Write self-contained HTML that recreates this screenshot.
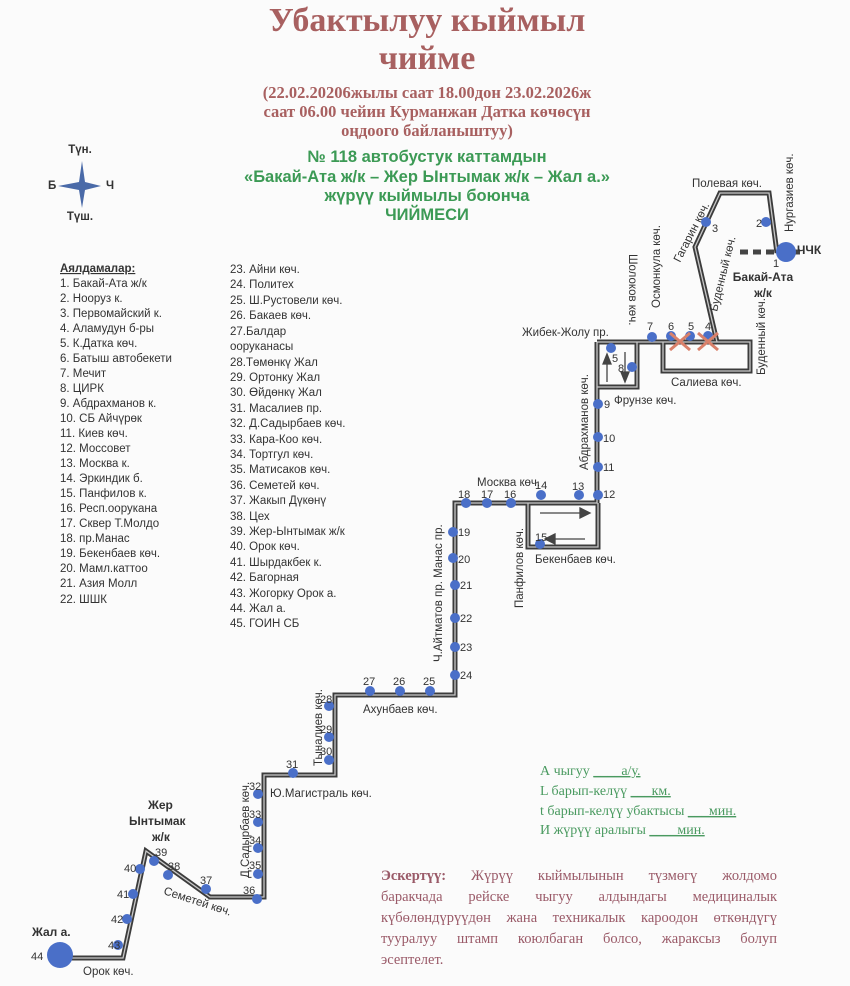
<!DOCTYPE html>
<html><head><meta charset="utf-8"><style>
html,body{margin:0;padding:0;background:#fbfbfb;}
svg{display:block}
.t{font-family:"Liberation Serif",serif;font-weight:bold;fill:#a86060;text-anchor:middle}
.g{font-family:"Liberation Sans",sans-serif;font-weight:bold;fill:#3c9a55;text-anchor:middle;font-size:16.5px}
.l{font-family:"Liberation Sans",sans-serif;fill:#333;font-size:11.5px}
.s{font-family:"Liberation Sans",sans-serif;fill:#333;font-size:11.5px}
.n{font-family:"Liberation Sans",sans-serif;fill:#333;font-size:11px}
.gs{font-family:"Liberation Serif",serif;fill:#4a9a60;font-size:14px}
#note{position:absolute;left:381px;top:866px;width:396px;font-family:"Liberation Serif",serif;color:#9a5a68;font-size:14.5px;line-height:21px;text-align:justify;text-align-last:justify}
#note .last{text-align-last:left}
</style></head><body>
<div style="position:relative;width:850px;height:986px">
<svg width="850" height="986" viewBox="0 0 850 986" xmlns="http://www.w3.org/2000/svg">
<text class="t" x="427" y="31" font-size="34">Убактылуу кыймыл</text>
<text class="t" x="427" y="69" font-size="34">чийме</text>
<text class="t" x="427" y="98" font-size="16.5">(22.02.20206жылы саат 18.00дон 23.02.2026ж</text>
<text class="t" x="427" y="117" font-size="16.5">саат 06.00 чейин Курманжан Датка көчөсүн</text>
<text class="t" x="427" y="136" font-size="16.5">оңдоого байланыштуу)</text>
<text class="g" x="427" y="162">№ 118  автобустук каттамдын</text>
<text class="g" x="427" y="182">«Бакай-Ата ж/к – Жер Ынтымак ж/к – Жал а.»</text>
<text class="g" x="427" y="201">жүрүү кыймылы боюнча</text>
<text class="g" x="427" y="220">ЧИЙМЕСИ</text>

<text class="s" x="80" y="153" font-weight="bold" font-size="10" text-anchor="middle">Түн.</text>
<text class="s" x="80" y="220" font-weight="bold" font-size="10" text-anchor="middle">Түш.</text>
<text class="s" x="48" y="189" font-weight="bold" font-size="10">Б</text>
<text class="s" x="106" y="189" font-weight="bold" font-size="10">Ч</text>
<path d="M82,161 L85,182 L101,186 L85,190 L82,208 L79,190 L58,186 L79,182 Z" fill="#4a6aa8"/>

<g class="l">
<text x="60" y="272" font-weight="bold" text-decoration="underline">Аялдамалар:</text>
<text x="60" y="287">1. Бакай-Ата ж/к</text>
<text x="60" y="302">2.  Нооруз к.</text>
<text x="60" y="317">3. Первомайский к.</text>
<text x="60" y="332">4. Аламудун б-ры</text>
<text x="60" y="347">5. К.Датка көч.</text>
<text x="60" y="362">6. Батыш автобекети</text>
<text x="60" y="377">7. Мечит</text>
<text x="60" y="392">8. ЦИРК</text>
<text x="60" y="407">9. Абдрахманов к.</text>
<text x="60" y="422">10. СБ Айчүрөк</text>
<text x="60" y="437">11. Киев көч.</text>
<text x="60" y="452">12. Моссовет</text>
<text x="60" y="467">13. Москва к.</text>
<text x="60" y="482">14. Эркиндик б.</text>
<text x="60" y="497">15. Панфилов к.</text>
<text x="60" y="512">16. Респ.оорукана</text>
<text x="60" y="527">17. Сквер Т.Молдо</text>
<text x="60" y="542">18. пр.Манас</text>
<text x="60" y="557">19. Бекенбаев көч.</text>
<text x="60" y="572">20. Мамл.каттоо</text>
<text x="60" y="587">21. Азия Молл</text>
<text x="60" y="603">22. ШШК</text>
<text x="230" y="273">23. Айни көч.</text>
<text x="230" y="288">24. Политех</text>
<text x="230" y="304">25. Ш.Рустовели көч.</text>
<text x="230" y="319">26. Бакаев көч.</text>
<text x="230" y="335">27.Балдар</text>
<text x="230" y="350">ооруканасы</text>
<text x="230" y="366">28.Төмөнкү Жал</text>
<text x="230" y="381">29. Ортонку Жал</text>
<text x="230" y="396">30. Өйдөнкү Жал</text>
<text x="230" y="412">31. Масалиев пр.</text>
<text x="230" y="427">32. Д.Садырбаев көч.</text>
<text x="230" y="443">33. Кара-Коо көч.</text>
<text x="230" y="458">34. Тортгул көч.</text>
<text x="230" y="473">35. Матисаков көч.</text>
<text x="230" y="489">36. Семетей көч.</text>
<text x="230" y="504">37. Жакып Дүкөнү</text>
<text x="230" y="520">38. Цех</text>
<text x="230" y="535">39. Жер-Ынтымак ж/к</text>
<text x="230" y="550">40. Орок көч.</text>
<text x="230" y="566">41. Шырдакбек к.</text>
<text x="230" y="581">42. Багорная</text>
<text x="230" y="597">43. Жогорку Орок а.</text>
<text x="230" y="612">44. Жал а.</text>
<text x="230" y="627">45. ГОИН СБ</text>
</g>

<g fill="none" stroke-linejoin="miter">
<g stroke="#3c3c3c" stroke-width="5">
<polyline points="777,253 769,193 720,193 695,247 717,342"/>
<polyline points="597,342 750,342 750,371 663,371 663,342"/>
<polyline points="637,342 637,387 597,387"/>
<polyline points="597,342 597,503 455,503 455,695 335,695 335,775 264,775 264,897 210,897 146,851 123,958 60,958"/>
<polyline points="528,503 528,547 598,547 598,503"/>
</g>
<g stroke="#c8c8c8" stroke-width="1.3">
<polyline points="777,253 769,193 720,193 695,247 717,342"/>
<polyline points="597,342 750,342 750,371 663,371 663,342"/>
<polyline points="637,342 637,387 597,387"/>
<polyline points="597,342 597,503 455,503 455,695 335,695 335,775 264,775 264,897 210,897 146,851 123,958 60,958"/>
<polyline points="528,503 528,547 598,547 598,503"/>
</g>
</g>
<line x1="740" y1="252" x2="800" y2="252" stroke="#444" stroke-width="5" stroke-dasharray="8,5"/>
<g stroke="#444" stroke-width="1.3" fill="#444">
<line x1="607" y1="382" x2="607" y2="362"/><path d="M603,364 L607,354 L611,364Z"/>
<line x1="625" y1="352" x2="625" y2="374"/><path d="M621,372 L625,382 L629,372Z"/>
<line x1="540" y1="513" x2="582" y2="513"/><path d="M580,508 L590,513 L580,518Z"/>
<line x1="585" y1="539" x2="553" y2="539"/><path d="M555,534 L545,539 L555,544Z"/>
</g>
<g fill="#4a6fc8">
<circle cx="786" cy="252" r="10"/>
<circle cx="766" cy="222" r="5"/>
<circle cx="706" cy="222" r="5"/>
<circle cx="708" cy="336" r="5"/><circle cx="690" cy="336" r="5"/><circle cx="671" cy="336" r="5"/><circle cx="652" cy="337" r="5"/>
<circle cx="611" cy="348" r="5"/><circle cx="632" cy="367" r="5"/>
<circle cx="598" cy="404" r="5"/><circle cx="598" cy="437" r="5"/><circle cx="598" cy="467" r="5"/><circle cx="598" cy="495" r="5"/>
<circle cx="579" cy="495" r="5"/><circle cx="541" cy="495" r="5"/><circle cx="511" cy="503" r="5"/><circle cx="487" cy="503" r="5"/><circle cx="466" cy="503" r="5"/>
<circle cx="540" cy="544" r="5"/>
<circle cx="453" cy="532" r="5"/><circle cx="453" cy="558" r="5"/><circle cx="455" cy="585" r="5"/><circle cx="455" cy="618" r="5"/><circle cx="455" cy="647" r="5"/><circle cx="455" cy="675" r="5"/>
<circle cx="430" cy="691" r="5"/><circle cx="400" cy="691" r="5"/><circle cx="370" cy="691" r="5"/>
<circle cx="329" cy="706" r="5"/><circle cx="329" cy="737" r="5"/><circle cx="329" cy="760" r="5"/>
<circle cx="293" cy="773" r="5"/>
<circle cx="258" cy="794" r="5"/><circle cx="258" cy="822" r="5"/><circle cx="258" cy="848" r="5"/><circle cx="258" cy="874" r="5"/><circle cx="257" cy="899" r="5"/>
<circle cx="206" cy="889" r="5"/><circle cx="168" cy="875" r="5"/><circle cx="154" cy="861" r="5"/>
<circle cx="140" cy="869" r="5"/><circle cx="133" cy="894" r="5"/><circle cx="127" cy="919" r="5"/><circle cx="118" cy="945" r="5"/>
<circle cx="60" cy="955" r="13"/>
</g>
<g stroke="#d9806a" stroke-width="3">
<line x1="670" y1="333" x2="690" y2="350"/><line x1="690" y1="333" x2="670" y2="350"/>
<line x1="698" y1="333" x2="718" y2="350"/><line x1="718" y1="333" x2="698" y2="350"/>
</g>
<g class="n">
<text x="773" y="267">1</text><text x="756" y="227">2</text><text x="712" y="232">3</text>
<text x="705" y="330">4</text><text x="688" y="330">5</text><text x="668" y="330">6</text><text x="647" y="330">7</text>
<text x="612" y="362">5</text><text x="618" y="372">8</text>
<text x="604" y="408">9</text><text x="603" y="442">10</text><text x="603" y="471">11</text><text x="603" y="498">12</text>
<text x="572" y="490">13</text><text x="535" y="489">14</text><text x="504" y="498">16</text><text x="481" y="498">17</text><text x="458" y="498">18</text>
<text x="535" y="541">15</text>
<text x="458" y="536">19</text><text x="458" y="563">20</text><text x="460" y="589">21</text><text x="460" y="622">22</text><text x="460" y="651">23</text><text x="460" y="679">24</text>
<text x="423" y="685">25</text><text x="393" y="685">26</text><text x="363" y="685">27</text>
<text x="320" y="703">28</text><text x="320" y="733">29</text><text x="320" y="755">30</text>
<text x="286" y="768">31</text>
<text x="249" y="790">32</text><text x="249" y="818">33</text><text x="249" y="844">34</text><text x="249" y="869">35</text><text x="243" y="894">36</text>
<text x="200" y="884">37</text><text x="168" y="870">38</text><text x="155" y="856">39</text>
<text x="124" y="872">40</text><text x="117" y="898">41</text><text x="111" y="923">42</text><text x="108" y="949">43</text>
<text x="31" y="960">44</text>
</g>
<g class="s">
<text x="692" y="187">Полевая көч.</text>
<text transform="translate(793,232) rotate(-90)">Нургазиев көч.</text>
<text x="797" y="254" font-weight="bold" font-size="12">ЧЧК</text>
<text x="763" y="281" font-weight="bold" font-size="12" text-anchor="middle">Бакай-Ата</text>
<text x="763" y="297" font-weight="bold" font-size="12" text-anchor="middle">ж/к</text>
<text transform="translate(680,263) rotate(-63)">Гагарин көч.</text>
<text transform="translate(660,308) rotate(-90)">Осмонкула көч.</text>
<text transform="translate(629,254) rotate(90)">Шолоков көч.</text>
<text transform="translate(717,312) rotate(-76)">Буденный көч.</text>
<text transform="translate(765,375) rotate(-90)">Буденный көч.</text>
<text x="522" y="336">Жибек-Жолу пр.</text>
<text x="671" y="386">Салиева көч.</text>
<text x="614" y="404">Фрунзе көч.</text>
<text transform="translate(588,470) rotate(-90)">Абдрахманов көч.</text>
<text x="477" y="486">Москва көч.</text>
<text transform="translate(523,608) rotate(-90)">Панфилов көч.</text>
<text x="535" y="563">Бекенбаев көч.</text>
<text transform="translate(442,662) rotate(-90)">Ч.Айтматов пр. Манас пр.</text>
<text x="363" y="713">Ахунбаев көч.</text>
<text transform="translate(322,766) rotate(-90)">Тыналиев көч.</text>
<text x="270" y="797">Ю.Магистраль көч.</text>
<text transform="translate(249,878) rotate(-90)">Д.Садырбаев көч.</text>
<text transform="translate(163,894) rotate(18)">Семетей көч.</text>
<text x="83" y="975">Орок көч.</text>
<text x="148" y="809" font-weight="bold" font-size="12">Жер</text>
<text x="129" y="825" font-weight="bold" font-size="12">Ынтымак</text>
<text x="152" y="841" font-weight="bold" font-size="12">ж/к</text>
<text x="32" y="936" font-weight="bold" font-size="12">Жал а.</text>
</g>
<g class="gs">
<text x="540" y="775">А чыгуу <tspan text-decoration="underline">____а/у.</tspan></text>
<text x="540" y="795">L барып-келүү <tspan text-decoration="underline">___км.</tspan></text>
<text x="540" y="815">t барып-келүү убактысы <tspan text-decoration="underline">___мин.</tspan></text>
<text x="540" y="834">И жүрүү аралыгы  <tspan text-decoration="underline">____мин.</tspan></text>
</g>
</svg>
<div id="note"><div><b>Эскертүү:</b> Жүрүү кыймылынын түзмөгү жолдомо</div><div>баракчада рейске чыгуу алдындагы медициналык</div><div>күбөлөндүрүүдөн жана техникалык кароодон өткөндүгү</div><div>тууралуу штамп коюлбаган болсо, жараксыз болуп</div><div class="last">эсептелет.</div></div>
</div>
</body></html>
